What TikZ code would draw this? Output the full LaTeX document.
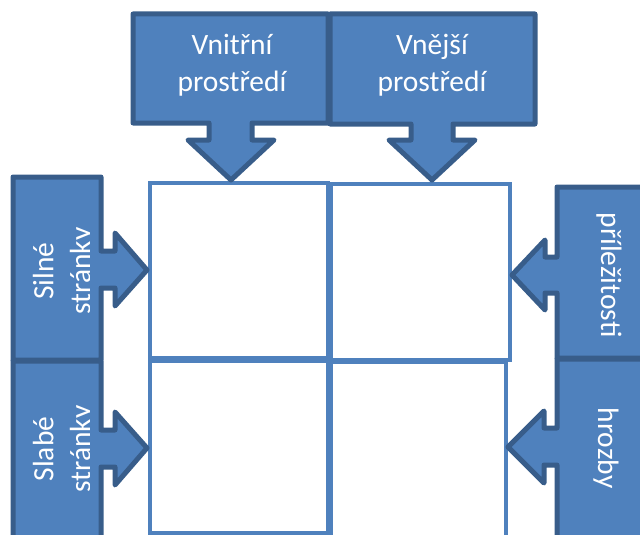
\documentclass[tikz,border=0pt]{standalone}
\usepackage{fontspec}
\setmainfont{Carlito}
\usepackage{tikz}
\definecolor{swotblue}{RGB}{79,129,189}
\definecolor{swotedge}{RGB}{56,93,138}

\begin{document}
\begin{tikzpicture}[x=1pt,y=-1pt,
    callbox/.style={fill=swotblue, draw=swotedge, line width=5pt, line join=round},
    cellbox/.style={draw=swotblue, line width=4.5pt},
    swottext/.style={text=white, font=\fontsize{29.5}{37}\selectfont, align=center, inner sep=0pt}]
    % Frame of the picture
    \useasboundingbox (0,0) rectangle (640,535);
    \clip (0,0) rectangle (640,535);
    % SWOT cells
    \draw[cellbox] (150,183) rectangle (328,358);
    \draw[cellbox] (331,184) rectangle (510,360);
    \draw[cellbox] (150,361) rectangle (328,533);
    \draw[cellbox] (331,362) rectangle (506,570);
    % Top callouts
    \draw[callbox] (133,14) -- (328,14) -- (328,123) -- (252,123) -- (252,140) -- (274,140)
        -- (231,180) -- (188,140) -- (209,140) -- (209,123) -- (133,123) -- cycle;
    \draw[callbox] (330,14) -- (535,14) -- (535,124) -- (453,124) -- (453,140) -- (475,140)
        -- (432,180) -- (389,140) -- (411,140) -- (411,124) -- (330,124) -- cycle;
    \node[swottext] (vnitrni) at (232,65) {Vnitřní\\prostředí};
    \node[swottext] (vnejsi) at (432,65) {Vnější\\prostředí};
    % Left callouts
    \draw[callbox] (13,177) -- (101,177) -- (101,251) -- (115,251) -- (115,233) -- (147,270)
        -- (115,306) -- (115,288) -- (101,288) -- (101,360) -- (13,360) -- cycle;
    \draw[callbox] (13,361) -- (101,361) -- (101,430) -- (115,430) -- (115,412) -- (147,448)
        -- (115,485) -- (115,467) -- (101,467) -- (101,570) -- (13,570) -- cycle;
    \begin{scope}
      \clip (13,177) rectangle (89,570);
      \node[swottext, rotate=90] (silne) at (64,271) {Silné\\stránky};
      \node[swottext, rotate=90] (slabe) at (64,449) {Slabé\\stránky};
    \end{scope}
    % Right callouts
    \draw[callbox] (557,187) -- (670,187) -- (670,358) -- (557,358) -- (557,293) -- (545,293)
        -- (545,310) -- (512,275) -- (545,240) -- (545,257) -- (557,257) -- cycle;
    \draw[callbox] (557,359) -- (670,359) -- (670,570) -- (557,570) -- (557,465) -- (544,465)
        -- (544,483) -- (508,447) -- (544,411) -- (544,428) -- (557,428) -- cycle;
    \node[swottext, rotate=-90] (prilezitosti) at (609,275) {příležitosti};
    \node[swottext, rotate=-90] (hrozby) at (606,448) {hrozby};
\end{tikzpicture}
\end{document}
